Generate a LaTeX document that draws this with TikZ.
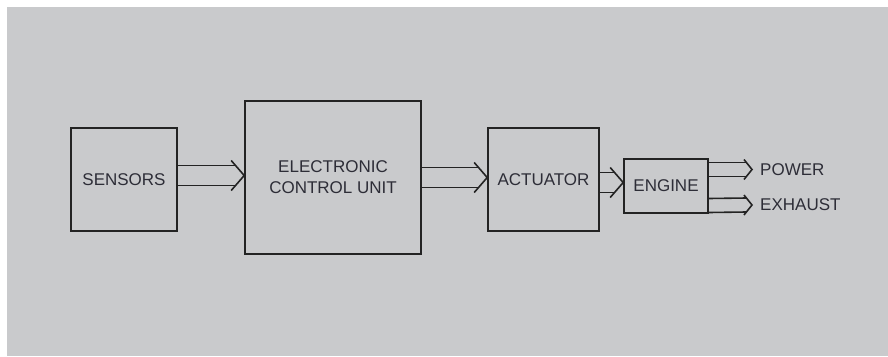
\documentclass[tikz,border=0pt]{standalone}
\usepackage{fontspec}
\setmainfont{Liberation Sans}
\usetikzlibrary{calc}
\definecolor{bggray}{RGB}{201,202,204}
\definecolor{ink}{RGB}{35,35,35}
\definecolor{txt}{RGB}{45,45,55}
\tikzset{
  blk/.style={draw=ink, line width=1.6pt, rectangle, inner sep=0pt, font=\fontsize{17}{21}\selectfont, text=txt, align=center},
  lbl/.style={inner sep=0pt, anchor=west, font=\fontsize{17}{21}\selectfont, text=txt},
  conn/.style={draw=ink, line width=1.6pt, line join=miter},
}
% #1 start, #2 tip, #3 half gap, #4 head half height, #5 head length
\newcommand\hollowarrow[5]{%
  \draw[conn] ($(#1)+(0,-#3)$) -- ($(#2)+({-#5*#3/#4},-#3)$);
  \draw[conn] ($(#1)+(0,#3)$) -- ($(#2)+({-#5*#3/#4},#3)$);
  \draw[conn] ($(#2)+(-#5,-#4)$) -- (#2) -- ($(#2)+(-#5,#4)$);
}
\begin{document}
\begin{tikzpicture}[x=1pt,y=-1pt]
\useasboundingbox (0,0) rectangle (888,356);
\fill[white] (0,0) rectangle (888,356);
\fill[bggray] (7,7) rectangle (888,356);

\node[blk, minimum width=106pt, minimum height=103pt] (sens) at (124,179.5) {SENSORS};
\node[blk, minimum width=176pt, minimum height=153pt] (ecu) at (333,177.5) {ELECTRONIC\\CONTROL UNIT};
\node[blk, minimum width=111pt, minimum height=103pt] (act) at (543.5,179.5) {ACTUATOR};
\node[blk, minimum width=84pt, minimum height=54pt] (eng) at (666,186) {ENGINE};
\node[lbl] (pow) at (760,169.5) {POWER};
\node[lbl] (exh) at (760,205) {EXHAUST};

\coordinate (m1) at (0,175.5);
\coordinate (m2) at (0,177.5);
\coordinate (m3) at (0,182.5);
\coordinate (m4) at (0,169.5);
\coordinate (m5) at (0,205.5);

\hollowarrow{sens.east |- m1}{ecu.west |- m1}{10}{15}{13}
\hollowarrow{ecu.east |- m2}{act.west |- m2}{10}{15}{13}
\hollowarrow{act.east |- m3}{eng.west |- m3}{10}{15}{13}
\coordinate (t4) at ($(pow.west)+(-8,0)$);
\coordinate (t5) at ($(exh.west)+(-8,0)$);
\hollowarrow{eng.east |- m4}{t4}{7}{10}{8}
\hollowarrow{eng.east |- m5}{t5}{7}{10}{8}
\end{tikzpicture}
\end{document}
